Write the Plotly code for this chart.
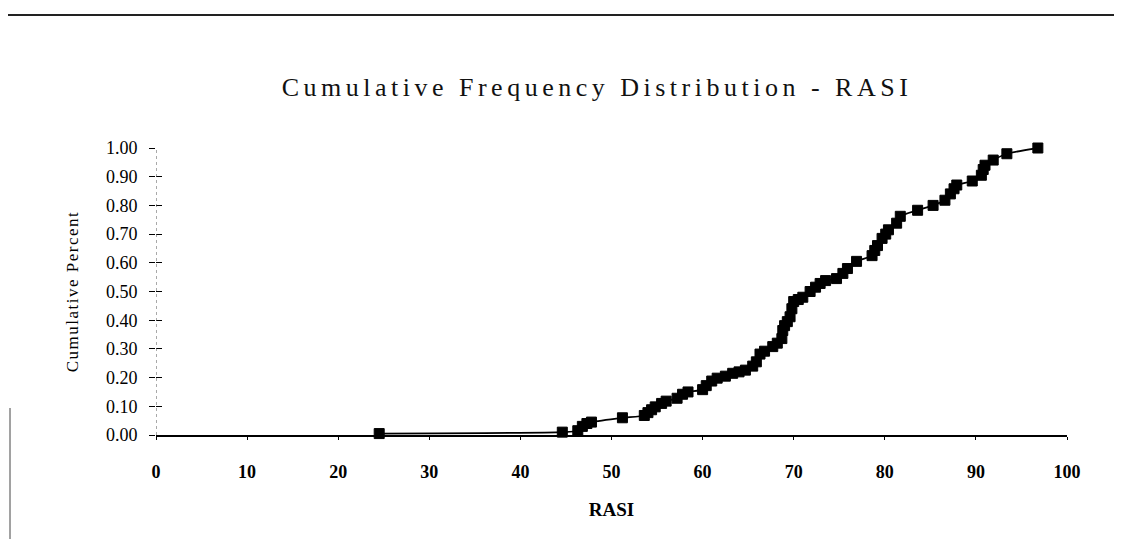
import plotly.graph_objects as go

# ---- data ----
rasi = [24.5, 44.6, 46.3, 46.8, 47.3, 47.8, 51.2, 53.6, 54.0, 54.4, 54.8, 55.5, 56.0,
        57.2, 57.8, 58.4, 60.0, 60.4, 61.0, 61.6, 62.5, 63.3, 64.0, 64.7, 65.5, 65.9,
        66.3, 66.8, 67.7, 68.2, 68.7, 68.8, 69.0, 69.3, 69.6, 69.8, 70.0, 70.5, 71.0,
        71.8, 72.4, 72.9, 73.5, 74.7, 75.4, 75.9, 76.9, 78.6, 78.9, 79.2, 79.7, 80.1,
        80.4, 81.3, 81.7, 83.6, 85.3, 86.6, 87.2, 87.6, 87.9, 89.6, 90.6, 90.8, 91.0,
        91.9, 93.4, 96.8]
cum_pct = [0.005, 0.010, 0.015, 0.030, 0.040, 0.045, 0.060, 0.068, 0.078, 0.088, 0.098,
           0.110, 0.118, 0.128, 0.142, 0.150, 0.158, 0.172, 0.188, 0.198, 0.205, 0.215,
           0.220, 0.226, 0.240, 0.255, 0.282, 0.292, 0.308, 0.320, 0.336, 0.364, 0.381,
           0.395, 0.412, 0.440, 0.465, 0.472, 0.480, 0.500, 0.515, 0.528, 0.538, 0.545,
           0.563, 0.580, 0.605, 0.625, 0.643, 0.660, 0.685, 0.700, 0.715, 0.738, 0.762,
           0.783, 0.800, 0.818, 0.840, 0.858, 0.871, 0.885, 0.905, 0.925, 0.940, 0.958,
           0.980, 1.000]
x_ticks = [0, 10, 20, 30, 40, 50, 60, 70, 80, 90, 100]
y_ticks = [0.0, 0.1, 0.2, 0.3, 0.4, 0.5, 0.6, 0.7, 0.8, 0.9, 1.0]

title_text = "Cumulative Frequency Distribution - RASI"
x_title = "RASI"
y_title = "Cumulative Percent"

W, H = 1122, 539
L, R, T, B = 148, 63, 140, 112
pw, ph = W - L - R, H - T - B

def px_x(p):
    return (p - L) / pw

def px_y(p):
    return (H - B - p) / ph

SERIF = "Liberation Serif, Times New Roman, serif"

fig = go.Figure()
fig.add_trace(go.Scatter(
    x=rasi, y=cum_pct, mode="lines+markers",
    line=dict(color="black", width=1.8, shape="spline", smoothing=0.6),
    marker=dict(symbol="square", size=10, color="black",
                line=dict(color="black", width=1)),
    cliponaxis=False, showlegend=False, yaxis="y"))
# invisible trace on a second y axis so that inside ticks render (cross-shaped ticks)
fig.add_trace(go.Scatter(x=[50], y=[0.5], mode="markers", marker=dict(opacity=0),
                         showlegend=False, hoverinfo="skip", yaxis="y2"))

fig.update_layout(
    width=W, height=H,
    margin=dict(l=L, r=R, t=T, b=B),
    paper_bgcolor="white", plot_bgcolor="white",
    font=dict(family=SERIF, color="black"),
    title=dict(text='<span style="letter-spacing:4.5px">' + title_text + '</span>',
               x=589 / W, xref="container", xanchor="center",
               y=1 - 79 / H, yref="container", yanchor="middle",
               font=dict(family=SERIF, size=26, color="#111")),
    xaxis=dict(range=[0, 100], tickvals=x_ticks, ticktext=[str(v) for v in x_ticks],
               showgrid=False, zeroline=False, showline=True, linecolor="black",
               linewidth=2, ticks="outside", ticklen=3, tickcolor="black",
               ticklabelstandoff=16,
               tickfont=dict(family=SERIF, size=18, color="black", weight="bold"),
               title=dict(text=x_title, standoff=22,
                          font=dict(family=SERIF, size=19, color="black", weight="bold"))),
    yaxis=dict(range=[0, 1], tickvals=y_ticks, ticktext=["%.2f" % v for v in y_ticks],
               showgrid=False, zeroline=False, showline=False,
               ticks="outside", ticklen=6, tickcolor="black", tickwidth=1,
               ticklabelstandoff=8,
               tickfont=dict(family=SERIF, size=18, color="black"),
               title=dict(text='<span style="letter-spacing:1.5px">' + y_title + '</span>',
                          standoff=22,
                          font=dict(family=SERIF, size=17, color="black"))),
    yaxis2=dict(range=[0, 1], tickvals=y_ticks, overlaying="y", side="left",
                anchor="x", visible=True,
                showgrid=False, zeroline=False, showline=False, showticklabels=False,
                ticks="inside", ticklen=6, tickcolor="black", tickwidth=1),
    shapes=[
        # dotted y axis line
        dict(type="line", xref="x", yref="paper", x0=0, x1=0, y0=0, y1=1,
             line=dict(color="#555", width=1, dash="dot")),
        # scanned frame lines
        dict(type="line", xref="paper", yref="paper", x0=px_x(0), x1=px_x(W),
             y0=px_y(7), y1=px_y(7), line=dict(color="#222", width=2)),
        dict(type="line", xref="paper", yref="paper", x0=px_x(0), x1=px_x(W),
             y0=px_y(533), y1=px_y(533), line=dict(color="#222", width=2)),
        dict(type="line", xref="paper", yref="paper", x0=px_x(2), x1=px_x(2),
             y0=px_y(400), y1=px_y(533), line=dict(color="#444", width=1)),
    ],
)

fig.write_html("out.html")
